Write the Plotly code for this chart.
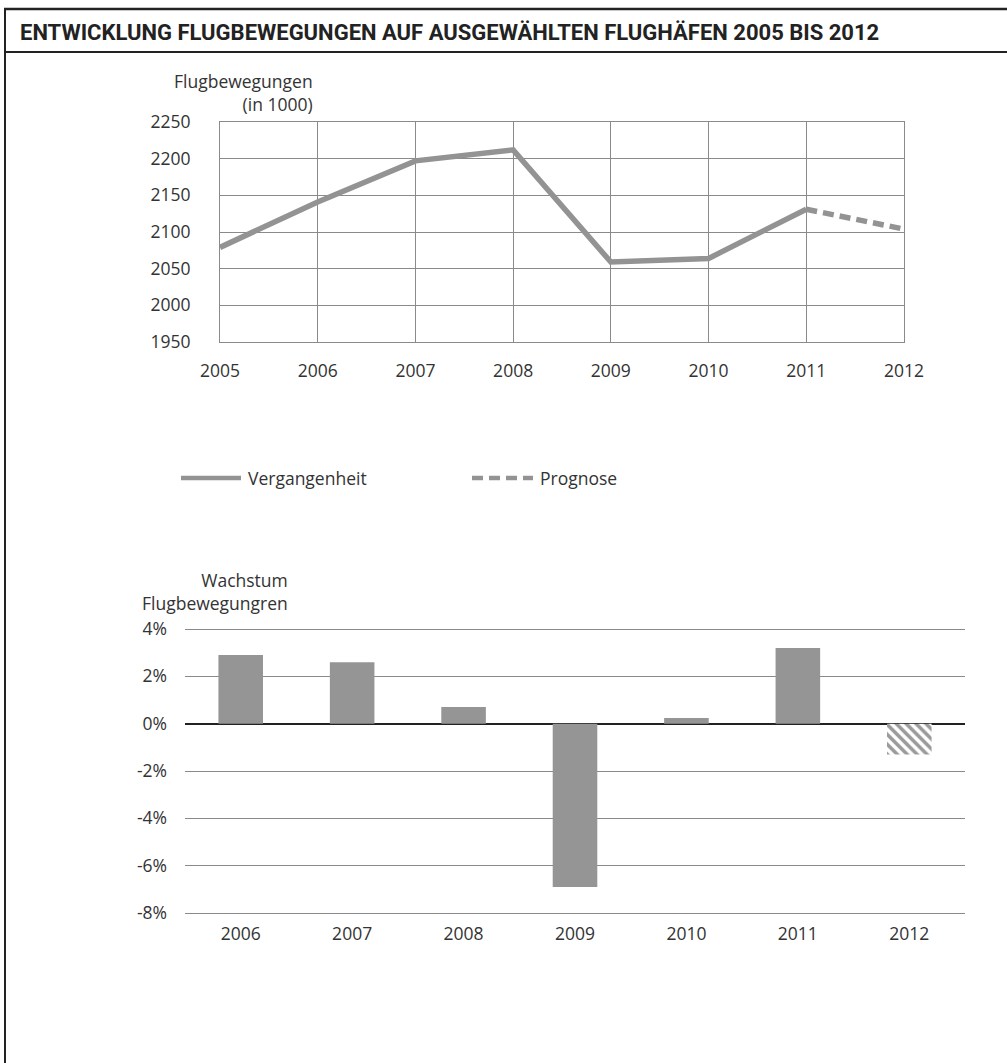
import plotly.graph_objects as go

W, H = 1007, 1063

# ---- data ----
years = [2005, 2006, 2007, 2008, 2009, 2010, 2011, 2012]
movements = [2079, 2141, 2197, 2212, 2059, 2064, 2131, 2104]  # in 1000
hist_years = years[:7]
hist_vals = movements[:7]
prog_years = years[6:]
prog_vals = movements[6:]

growth_years = ["2006", "2007", "2008", "2009", "2010", "2011"]
growth_vals = [2.9, 2.6, 0.7, -6.9, 0.24, 3.2]  # percent
forecast_years = ["2012"]
forecast_vals = [-1.3]
all_growth_years = growth_years + forecast_years

y1_ticks = [1950, 2000, 2050, 2100, 2150, 2200, 2250]
y2_ticks = [-8, -6, -4, -2, 0, 2, 4]
y2_ticklabels = ["-8%", "-6%", "-4%", "-2%", "0%", "2%", "4%"]

title_text = "ENTWICKLUNG FLUGBEWEGUNGEN AUF AUSGEWÄHLTEN FLUGHÄFEN 2005 BIS 2012"

# ---- style ----
FONT = "Open Sans, Noto Sans, sans-serif"
TFONT = "Roboto, sans-serif"
LINE_C = "#939393"
BAR_C = "#959595"
GRID_C = "#8a8a8a"
TXT_C = "#333333"
FS = 17.5


def px(x):
    return x / W


def py(y):
    return 1 - y / H


fig = go.Figure()

fig.add_trace(go.Scatter(x=hist_years, y=hist_vals, mode="lines",
                         line=dict(color=LINE_C, width=5.5),
                         name="Vergangenheit", showlegend=False,
                         xaxis="x", yaxis="y"))
fig.add_trace(go.Scatter(x=prog_years, y=prog_vals, mode="lines",
                         line=dict(color=LINE_C, width=5.5, dash="11px,6px"),
                         name="Prognose", showlegend=False,
                         xaxis="x", yaxis="y"))

fig.add_trace(go.Bar(
    x=growth_years, y=growth_vals,
    marker=dict(color=BAR_C, line=dict(width=0)),
    showlegend=False, xaxis="x2", yaxis="y2"))
fig.add_trace(go.Bar(
    x=forecast_years, y=forecast_vals,
    marker=dict(color="white", line=dict(width=0),
                pattern=dict(shape="\\", fgcolor="#9a9a9a", bgcolor="white",
                             size=7, solidity=0.5, fillmode="replace")),
    showlegend=False, xaxis="x2", yaxis="y2"))

axis_font = dict(family=FONT, size=FS, color=TXT_C)

# bottom chart: 4% at y=629px, -8% at y=913px -> 23.667 px per %
U = (913 - 629) / 12.0
PAD = 0.12

fig.update_layout(
    width=W, height=H,
    margin=dict(l=0, r=0, t=0, b=0),
    paper_bgcolor="white", plot_bgcolor="white",
    template="none",
    bargap=0.6, barmode="overlay",
    xaxis=dict(domain=[px(220), px(904)], range=[2005, 2012],
               tickvals=years, ticktext=[str(y) for y in years],
               showgrid=True, gridcolor=GRID_C, gridwidth=1,
               showline=True, linecolor=GRID_C, linewidth=1, mirror=True,
               zeroline=False, ticks="", tickfont=axis_font,
               ticklabelstandoff=13, automargin=False, fixedrange=True),
    yaxis=dict(domain=[py(342), py(122)], range=[1950, 2250],
               tickvals=y1_ticks, ticktext=[str(v) for v in y1_ticks],
               showgrid=True, gridcolor=GRID_C, gridwidth=1,
               showline=True, linecolor=GRID_C, linewidth=1, mirror=True,
               zeroline=False, ticks="", tickfont=axis_font,
               ticklabelstandoff=25, automargin=False, fixedrange=True),
    xaxis2=dict(domain=[px(185), px(965)], range=[-0.5, 6.5], type="category",
                categoryorder="array", categoryarray=all_growth_years,
                anchor="y2", showgrid=False, showline=False, zeroline=False,
                ticks="", tickfont=axis_font, ticklabelstandoff=6,
                automargin=False, fixedrange=True),
    yaxis2=dict(domain=[py(913 + PAD * U), py(629 - PAD * U)],
                range=[-8 - PAD, 4 + PAD], anchor="x2",
                tickvals=y2_ticks, ticktext=y2_ticklabels,
                showgrid=True, gridcolor=GRID_C, gridwidth=1,
                zeroline=True, zerolinecolor="#222222", zerolinewidth=1.5,
                showline=False, ticks="", tickfont=axis_font,
                ticklabelstandoff=17, automargin=False, fixedrange=True),
)

# frame
shapes = [
    dict(type="line", xref="paper", yref="paper", x0=px(5), x1=px(5), y0=0, y1=py(8),
         line=dict(color="#222222", width=2)),
    dict(type="line", xref="paper", yref="paper", x0=px(4), x1=1, y0=py(9), y1=py(9),
         line=dict(color="#222222", width=2.5)),
    dict(type="line", xref="paper", yref="paper", x0=px(5), x1=1, y0=py(52), y1=py(52),
         line=dict(color="#222222", width=2)),
    # legend symbols
    dict(type="line", xref="paper", yref="paper", x0=px(181), x1=px(241), y0=py(478), y1=py(478),
         line=dict(color=LINE_C, width=4.5)),
    dict(type="line", xref="paper", yref="paper", x0=px(472), x1=px(533), y0=py(478), y1=py(478),
         line=dict(color=LINE_C, width=4.5, dash="11px,6px")),
]
fig.update_layout(shapes=shapes)

ann = [
    dict(text="<b>" + title_text + "</b>", x=px(18), y=py(32), xanchor="left", yanchor="middle",
         font=dict(family=TFONT, size=22, color="#222222")),
    dict(text="Flugbewegungen<br>(in 1000)", x=px(315), y=py(93), xanchor="right", yanchor="middle",
         align="right", font=dict(family=FONT, size=FS, color=TXT_C)),
    dict(text="Wachstum<br>Flugbewegungren", x=px(290), y=py(591), xanchor="right", yanchor="middle",
         align="right", font=dict(family=FONT, size=FS, color=TXT_C)),
    dict(text="Vergangenheit", x=px(246), y=py(478), xanchor="left", yanchor="middle",
         font=dict(family=FONT, size=FS, color=TXT_C)),
    dict(text="Prognose", x=px(538), y=py(478), xanchor="left", yanchor="middle",
         font=dict(family=FONT, size=FS, color=TXT_C)),
]
for a in ann:
    a.update(xref="paper", yref="paper", showarrow=False)
fig.update_layout(annotations=ann)

fig.write_html("out.html")
